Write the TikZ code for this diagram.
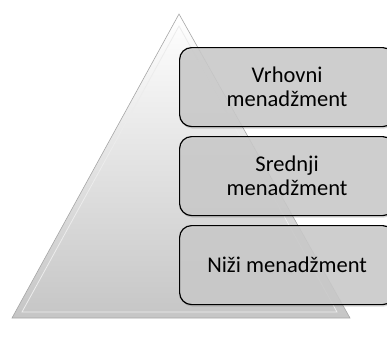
\documentclass[tikz,border=0pt]{standalone}
\usepackage{fontspec}
\setmainfont{Carlito}
\usetikzlibrary{shadows}
\begin{document}
\begin{tikzpicture}[x=1pt,y=-1pt,
  level/.style={draw=black, line width=1.2pt, rounded corners=12pt, fill=gray!40, fill opacity=0.85, text opacity=1,
    minimum width=215pt, minimum height=79pt, align=center, font=\fontsize{22.5}{24}\selectfont,
    drop shadow={shadow xshift=1pt, shadow yshift=-2pt, opacity=0.3}}]
\useasboundingbox (0,0) rectangle (387,349);
\coordinate (apex) at (179,14);
\coordinate (bl) at (12,318);
\coordinate (br) at (350,318);
\shade[top color=white, bottom color=gray!45, draw=gray!70, line width=0.6pt] (apex) -- (br) -- (bl) -- cycle;
\draw[white!85!gray, line width=0.8pt] (179,26) -- (337,312) -- (22,312) -- cycle;
\begin{scope}
\clip (0,0) rectangle (387,349);
\node[level, anchor=north west] (v) at (179,47) {Vrhovni\\menadžment};
\node[level, anchor=north west] (s) at (179,136) {Srednji\\menadžment};
\node[level, anchor=north west] (n) at (179,225) {Niži menadžment};
\end{scope}
\end{tikzpicture}
\end{document}
